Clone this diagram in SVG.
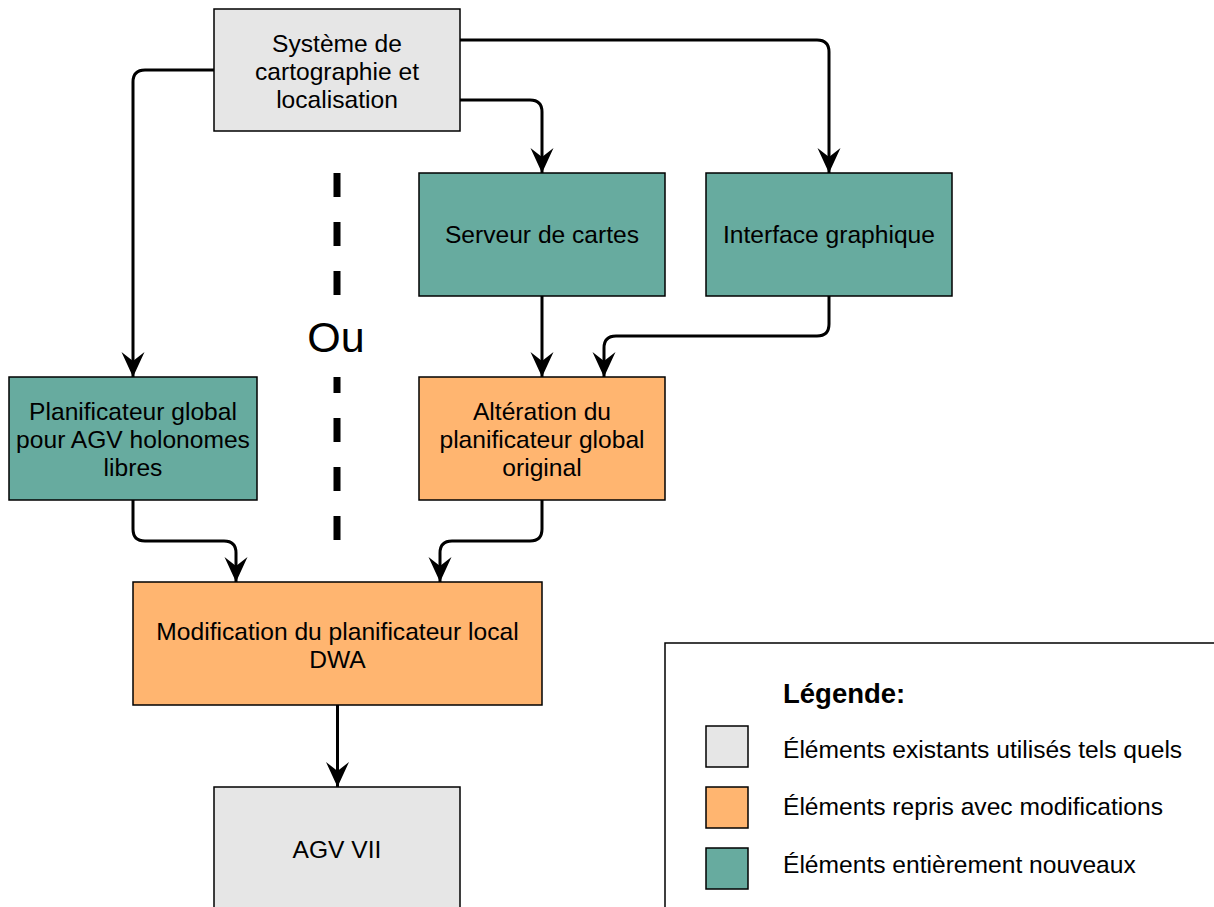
<svg xmlns="http://www.w3.org/2000/svg" width="1214" height="907" viewBox="0 0 1214 907">
<defs>
<style>
.box{stroke:#000;stroke-width:1.5}
.grey{fill:#E6E6E6}
.teal{fill:#67AB9F}
.orange{fill:#FFB570}
.t{font-family:"Liberation Sans",Arial,sans-serif;font-size:24.6px;fill:#000;text-anchor:middle}
.lt{font-family:"Liberation Sans",Arial,sans-serif;font-size:24.6px;fill:#000}
.conn{fill:none;stroke:#000;stroke-width:3;stroke-linejoin:round}
</style>
<marker id="arr" markerUnits="userSpaceOnUse" viewBox="-26 -12 27 24" refX="0" refY="0" markerWidth="27" markerHeight="24" orient="auto">
<path d="M0,0 L-25,-11.5 L-16,0 L-25,11.5 Z" fill="#000"/>
</marker>
</defs>
<rect width="1214" height="907" fill="#fff"/>
<g id="connectors">
<path class="conn" marker-end="url(#arr)" d="M214,70 H145 Q133,70 133,82 V377"/>
<path class="conn" marker-end="url(#arr)" d="M460,100 H530 Q542,100 542,112 V173"/>
<path class="conn" marker-end="url(#arr)" d="M460,40 H817 Q829,40 829,52 V173"/>
<path class="conn" marker-end="url(#arr)" d="M542,296 V377"/>
<path class="conn" marker-end="url(#arr)" d="M829,296 V324 Q829,336 817,336 H616 Q604,336 604,348 V377"/>
<path class="conn" marker-end="url(#arr)" d="M133,500 V529 Q133,541 145,541 H224 Q236,541 236,553 V582"/>
<path class="conn" marker-end="url(#arr)" d="M542,500 V529 Q542,541 530,541 H452 Q440,541 440,553 V582"/>
<path class="conn" marker-end="url(#arr)" d="M337.5,705 V787"/>
</g>
<g id="separator">
<line x1="337" y1="173" x2="337" y2="541" stroke="#000" stroke-width="7" stroke-dasharray="24 25"/>
<rect x="300" y="297" width="74" height="80" fill="#fff"/>
<text x="336" y="352" font-family="Liberation Sans, Arial, sans-serif" font-size="43" text-anchor="middle">Ou</text>
</g>
<g id="n-systeme">
<rect class="box grey" x="214" y="9" width="246" height="122"/>
<text class="t" x="337" y="52">Système de</text>
<text class="t" x="337" y="80">cartographie et</text>
<text class="t" x="337" y="108">localisation</text>
</g>
<g id="n-serveur">
<rect class="box teal" x="419" y="173" width="246" height="123"/>
<text class="t" x="542" y="243">Serveur de cartes</text>
</g>
<g id="n-interface">
<rect class="box teal" x="706" y="173" width="246" height="123"/>
<text class="t" x="829" y="243">Interface graphique</text>
</g>
<g id="n-planif">
<rect class="box teal" x="9" y="377" width="248" height="123"/>
<text class="t" x="133" y="420">Planificateur global</text>
<text class="t" x="133" y="448">pour AGV holonomes</text>
<text class="t" x="133" y="476">libres</text>
</g>
<g id="n-alteration">
<rect class="box orange" x="419" y="377" width="246" height="123"/>
<text class="t" x="542" y="420">Altération du</text>
<text class="t" x="542" y="448">planificateur global</text>
<text class="t" x="542" y="476">original</text>
</g>
<g id="n-modif">
<rect class="box orange" x="133" y="582" width="409" height="123"/>
<text class="t" x="337.5" y="640">Modification du planificateur local</text>
<text class="t" x="337.5" y="668">DWA</text>
</g>
<g id="n-agv">
<rect class="box grey" x="214" y="787" width="246" height="130"/>
<text class="t" x="337" y="858">AGV VII</text>
</g>
<g id="legend">
<rect x="665" y="643" width="560" height="280" fill="#fff" stroke="#000" stroke-width="1.5"/>
<text x="783" y="703" font-family="Liberation Sans, Arial, sans-serif" font-size="27.5" font-weight="bold">Légende:</text>
<rect class="box grey" x="706" y="726" width="42" height="41"/>
<text class="lt" x="783" y="758">Éléments existants utilisés tels quels</text>
<rect class="box orange" x="706" y="787" width="42" height="41"/>
<text class="lt" x="783" y="815">Éléments repris avec modifications</text>
<rect class="box teal" x="706" y="848" width="42" height="41"/>
<text class="lt" x="783" y="873">Éléments entièrement nouveaux</text>
</g>
</svg>
